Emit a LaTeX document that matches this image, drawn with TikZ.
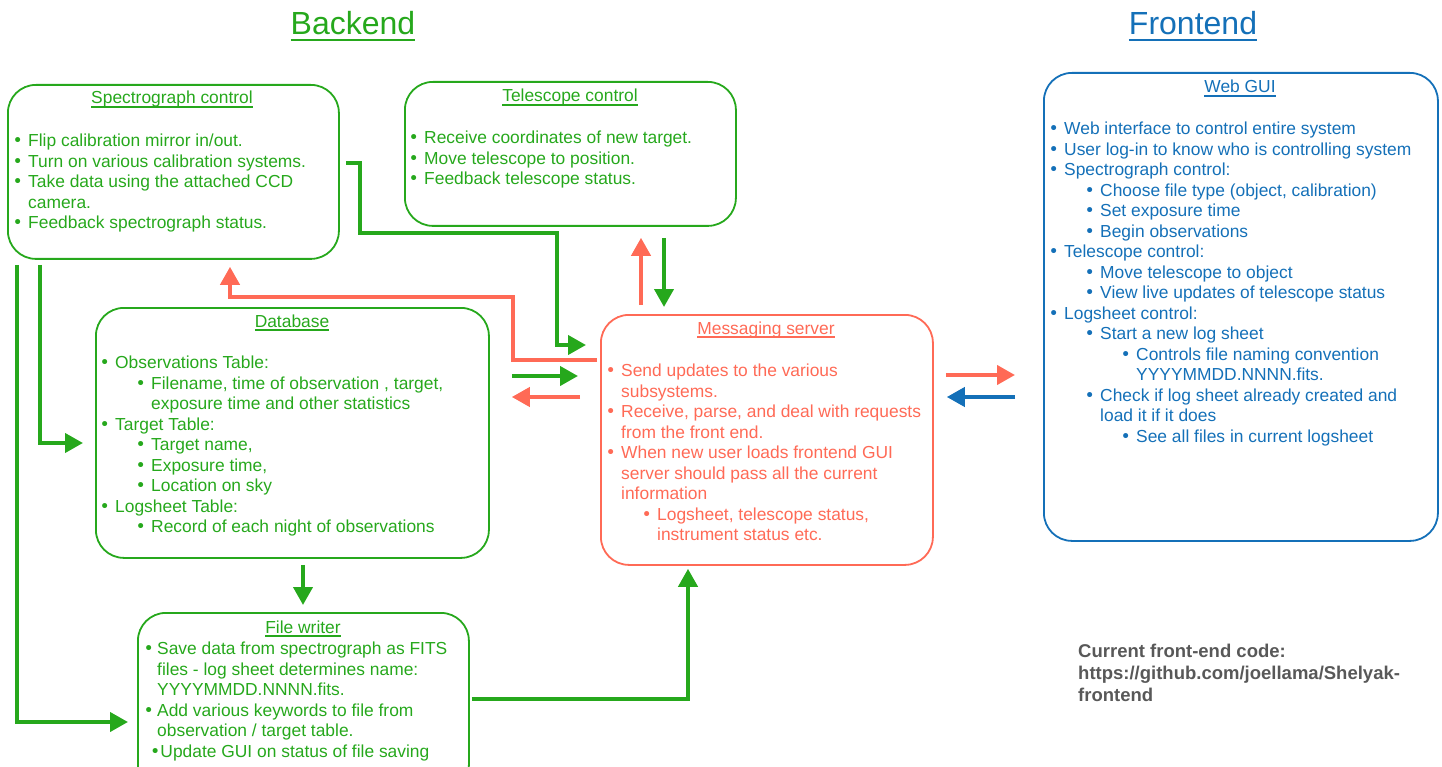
\documentclass[tikz,border=0pt]{standalone}
\usepackage{fontspec}
\setmainfont{Liberation Sans}
\newfontfamily\dotfont{DejaVu Sans}
\usetikzlibrary{arrows.meta}
\definecolor{gr}{RGB}{38,168,28}
\definecolor{rd}{RGB}{255,106,86}
\definecolor{bl}{RGB}{20,112,184}
\definecolor{gy}{RGB}{88,88,88}
\newcommand{\dotb}{{\dotfont\textbullet}}
\newcommand{\ia}{\makebox[14pt][l]{\hspace*{-1.5pt}\dotb}}
\newcommand{\ib}{\hspace*{36pt}\ia}
\newcommand{\ic}{\hspace*{72pt}\ia}
\newsavebox{\ttlbox}
\newcommand{\ttl}[1]{\sbox{\ttlbox}{#1}\rlap{\rule[-3.6pt]{\wd\ttlbox}{1.3pt}}\usebox{\ttlbox}}
\newcommand{\bigttl}[1]{\sbox{\ttlbox}{#1}\rlap{\rule[-6pt]{\wd\ttlbox}{2pt}}\usebox{\ttlbox}}
\tikzset{
  box/.style={draw, line width=1.8pt, rounded corners=28pt, anchor=north west, inner sep=0pt},
  txt/.style={font=\fontsize{17.4}{20.5}\selectfont, align=left, anchor=north west, inner sep=0pt},
  hd/.style={font=\fontsize{17.4}{20.5}\selectfont, anchor=base, inner sep=0pt},
  big/.style={font=\fontsize{32}{38}\selectfont, anchor=base, inner sep=0pt},
  link/.style={line width=4pt, -{Triangle[length=18pt,width=19pt]}},
  garrow/.style={link, draw=gr},
  rarrow/.style={link, draw=rd},
  barrow/.style={link, draw=bl}
}
\begin{document}
\begin{tikzpicture}[x=1pt, y=-1pt]
\useasboundingbox (0,0) rectangle (1442,767);
\clip (0,0) rectangle (1442,767);
\node[big, text=gr] (backend) at (353,35) {\bigttl{Backend}};
\node[big, text=bl] (frontend) at (1193,35) {\bigttl{Frontend}};

\node[box, draw=gr, minimum width=331pt, minimum height=174pt] (spec) at (7,84) {};
\node[box, draw=gr, minimum width=331pt, minimum height=144pt] (tel) at (404,81) {};
\node[box, draw=gr, minimum width=393pt, minimum height=250pt] (db) at (95,307) {};
\node[box, draw=gr, minimum width=331pt, minimum height=180pt] (fw) at (137,612) {};
\node[box, draw=rd, minimum width=332pt, minimum height=250pt] (msg) at (600,314) {};
\node[box, draw=bl, minimum width=394pt, minimum height=468pt] (web) at (1043,72) {};

\node[hd, text=gr] (spectitle) at (172,104) {\ttl{Spectrograph control}};
\node[hd, text=gr] (teltitle) at (570,102) {\ttl{Telescope control}};
\node[hd, text=gr] (dbtitle) at (292,327) {\ttl{Database}};
\node[hd, text=gr] (fwtitle) at (303,633) {\ttl{File writer}};
\node[hd, text=rd] (msgtitle) at (766,334) {\ttl{Messaging server}};
\node[hd, text=bl] (webtitle) at (1240,93) {\ttl{Web GUI}};

\node[txt, text=gr] (speclist) at (14,134) {\ia Flip calibration mirror in/out.\\
\ia Turn on various calibration systems.\\
\ia Take data using the attached CCD\\
\hspace*{14pt}camera.\\
\ia Feedback spectrograph status.};
\node[txt, text=gr] (tellist) at (410,131) {\ia Receive coordinates of new target.\\
\ia Move telescope to position.\\
\ia Feedback telescope status.};
\node[txt, text=gr] (dblist) at (101,356) {\ia Observations Table:\\
\ib Filename, time of observation , target,\\
\hspace*{50pt}exposure time and other statistics\\
\ia Target Table:\\
\ib Target name,\\
\ib Exposure time,\\
\ib Location on sky\\
\ia Logsheet Table:\\
\ib Record of each night of observations};
\node[txt, text=gr] (fwlist) at (145,642) {\makebox[12pt][l]{\hspace*{-1.5pt}\dotb}Save data from spectrograph as FITS\\
\hspace*{12pt}files - log sheet determines name:\\
\hspace*{12pt}YYYYMMDD.NNNN.fits.\\
\makebox[12pt][l]{\hspace*{-1.5pt}\dotb}Add various keywords to file from\\
\hspace*{12pt}observation / target table.\\
\hspace*{5pt}\dotb Update GUI on status of file saving};
\node[txt, text=rd] (msglist) at (607,364) {\ia Send updates to the various\\
\hspace*{14pt}subsystems.\\
\ia Receive, parse, and deal with requests\\
\hspace*{14pt}from the front end.\\
\ia When new user loads frontend GUI\\
\hspace*{14pt}server should pass all the current\\
\hspace*{14pt}information\\
\ib Logsheet, telescope status,\\
\hspace*{50pt}instrument status etc.};
\node[txt, text=bl] (weblist) at (1050,122) {\ia Web interface to control entire system\\
\ia User log-in to know who is controlling system\\
\ia Spectrograph control:\\
\ib Choose file type (object, calibration)\\
\ib Set exposure time\\
\ib Begin observations\\
\ia Telescope control:\\
\ib Move telescope to object\\
\ib View live updates of telescope status\\
\ia Logsheet control:\\
\ib Start a new log sheet\\
\ic Controls file naming convention\\
\hspace*{86pt}YYYYMMDD.NNNN.fits.\\
\ib Check if log sheet already created and\\
\hspace*{50pt}load it if it does\\
\ic See all files in current logsheet};
\node[anchor=north west, inner sep=0pt, align=left, font=\bfseries\fontsize{18.5}{22}\selectfont, text=gy] (note) at (1078,644) {Current front-end code:\\
https://github.com/joellama/Shelyak-\\
frontend};

\draw[garrow, shorten <=6pt, shorten >=14pt] (spec.east |- 0,163) -- (360,163) |- (557,233) |- (msg.west |- 0,345);
\draw[rarrow, shorten <=3pt, shorten >=7pt] (msg.west |- 0,360) -| (513,297) -| (spec.south -| 230,0);
\draw[garrow, shorten <=22pt, shorten >=22pt] (db.east |- 0,376) -- (msg.west |- 0,376);
\draw[rarrow, shorten <=20pt, shorten >=22pt] (msg.west |- 0,397) -- (db.east |- 0,397);
\draw[rarrow, shorten <=9pt, shorten >=11pt] (msg.north -| 641,0) -- (tel.south -| 641,0);
\draw[garrow, shorten <=11pt, shorten >=7pt] (tel.south -| 664,0) -- (msg.north -| 664,0);
\draw[garrow, shorten <=5pt, shorten >=12pt] (spec.south -| 40,0) |- (db.west |- 0,443);
\draw[garrow, shorten <=5pt, shorten >=9pt] (spec.south -| 17,0) |- (fw.west |- 0,722);
\draw[garrow, shorten <=6pt, shorten >=7pt] (db.south -| 303,0) -- (fw.north -| 303,0);
\draw[garrow, shorten <=2pt, shorten >=3pt] (fw.east |- 0,699) -| (msg.south -| 688,0);
\draw[rarrow, shorten <=12pt, shorten >=28pt] (msg.east |- 0,375) -- (web.west |- 0,375);
\draw[barrow, shorten <=28pt, shorten >=13pt] (web.west |- 0,397) -- (msg.east |- 0,397);
\end{tikzpicture}
\end{document}
